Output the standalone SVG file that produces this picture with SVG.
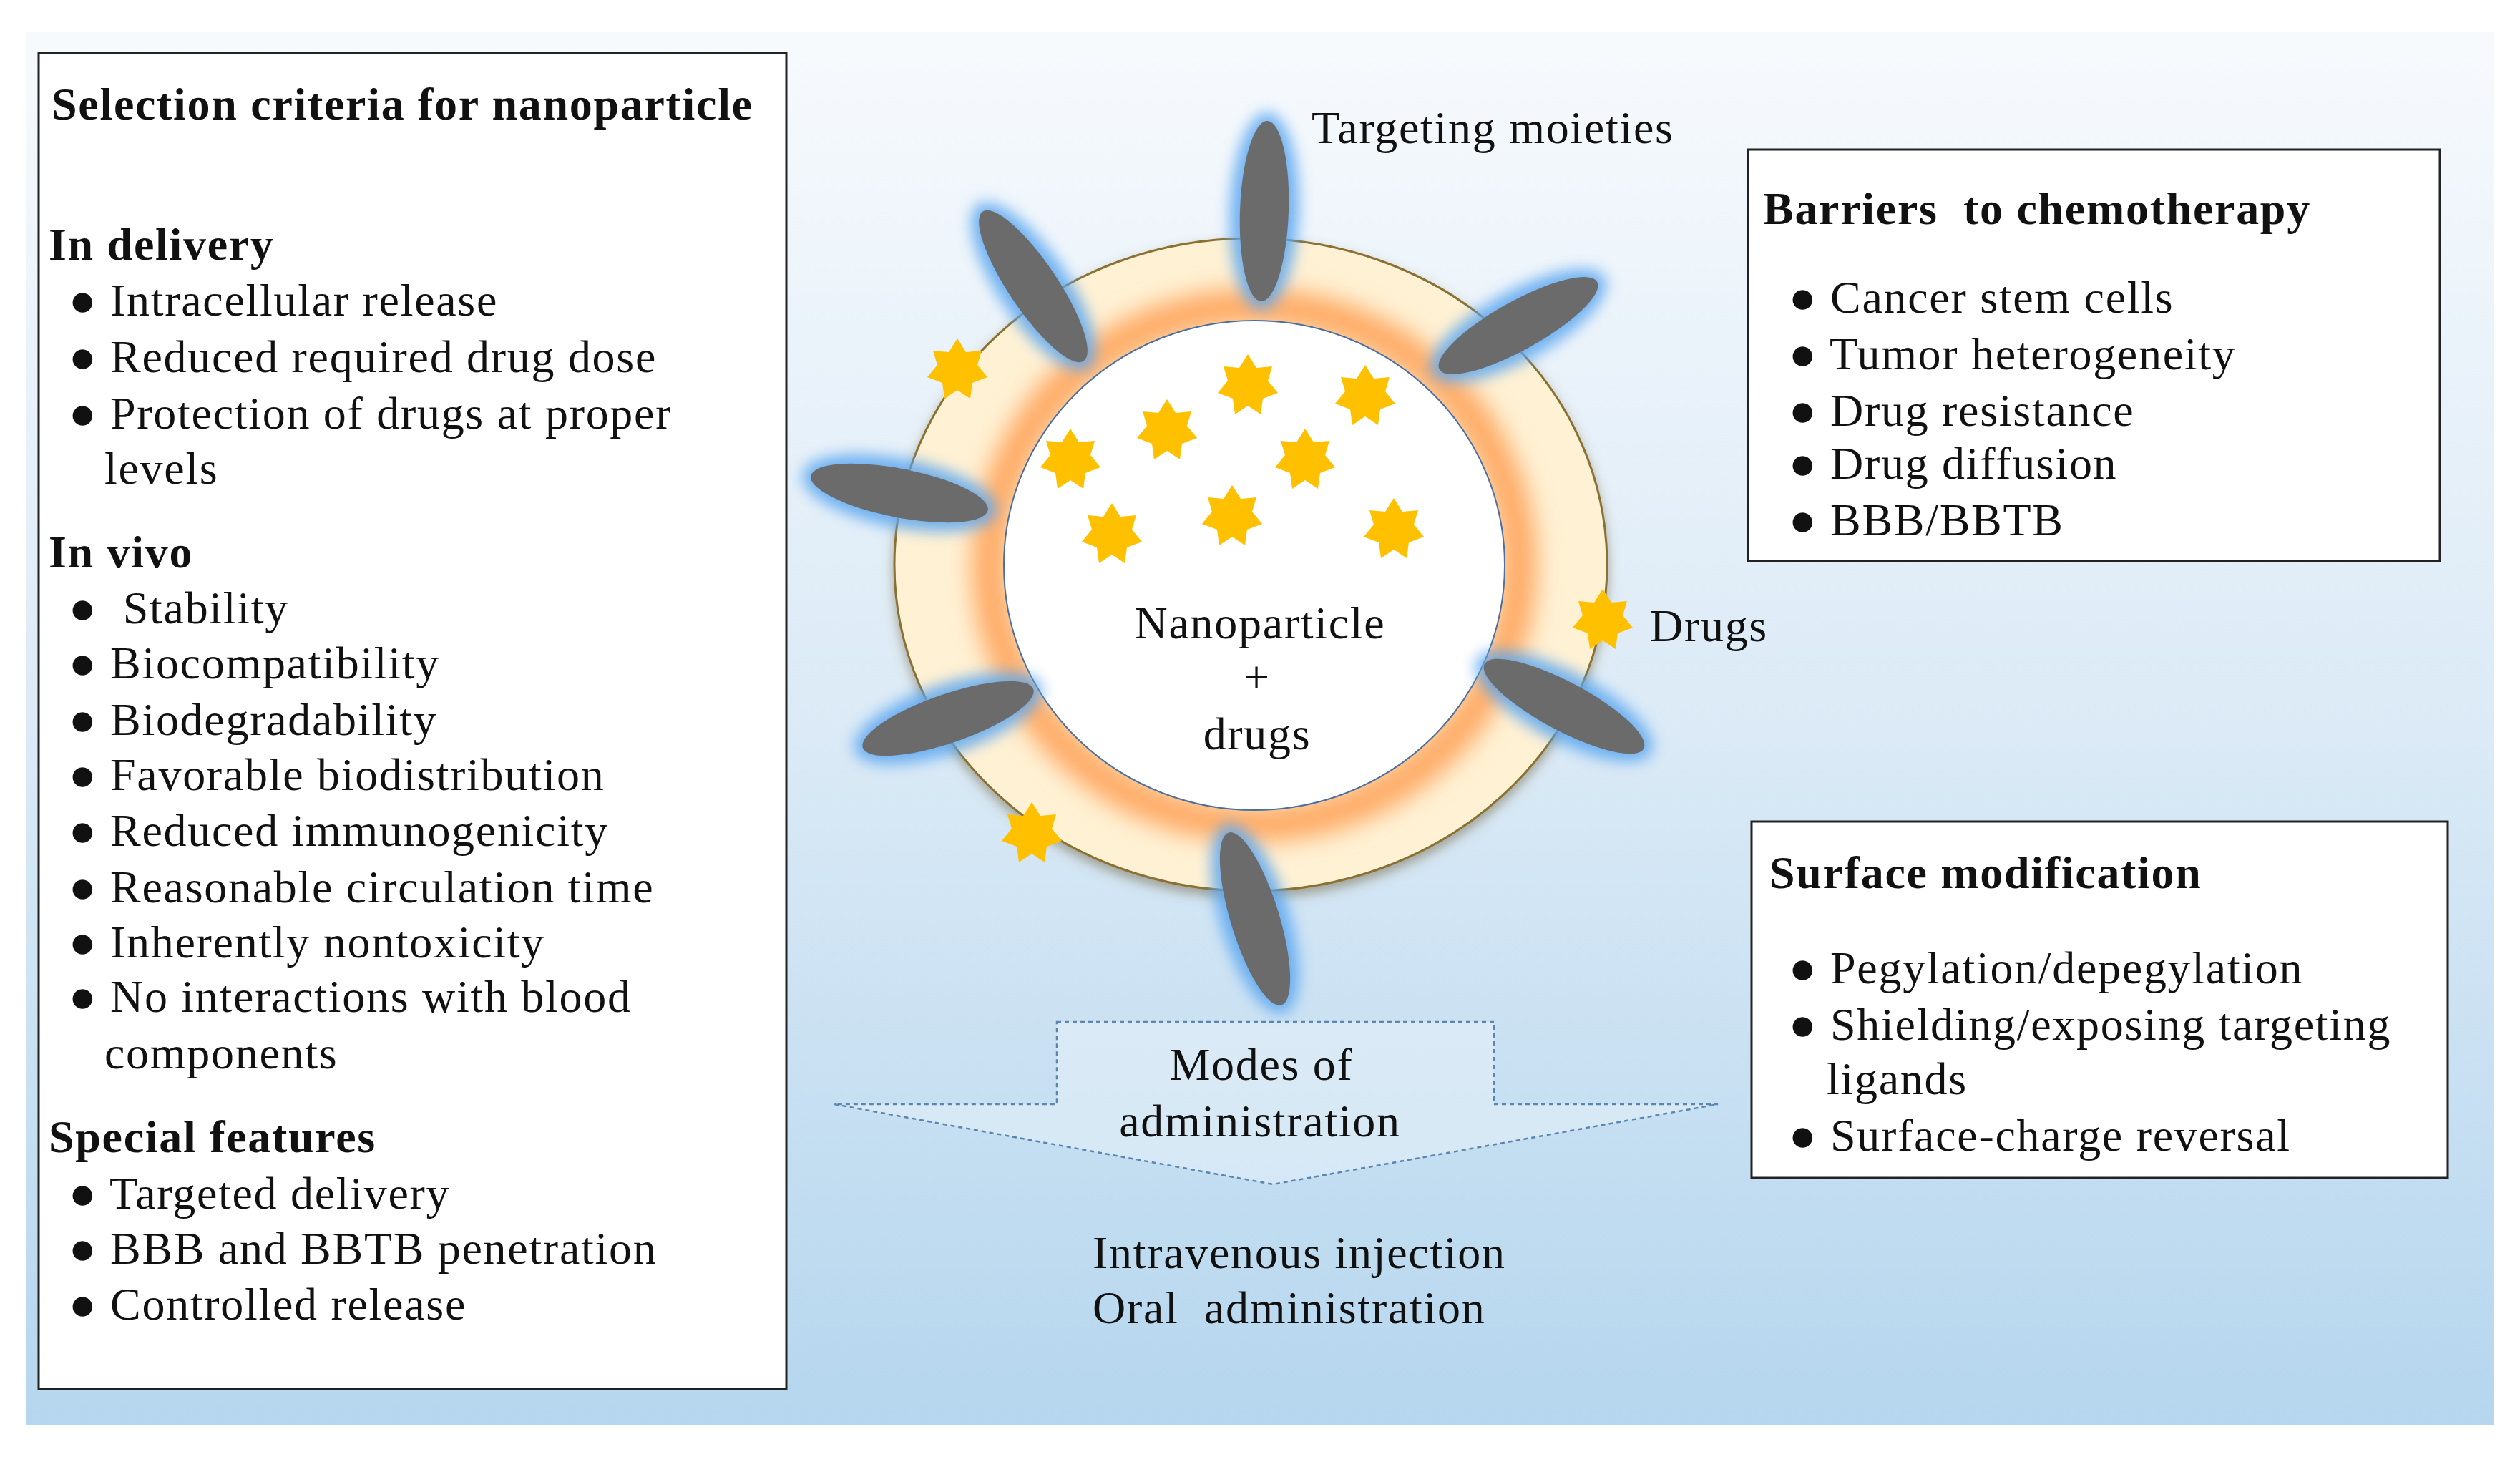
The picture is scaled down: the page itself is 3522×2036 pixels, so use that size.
<svg xmlns="http://www.w3.org/2000/svg" width="3522" height="2036" viewBox="0 0 3522 2036">
<defs>
<linearGradient id="bg" x1="0" y1="0" x2="0" y2="1">
<stop offset="0" stop-color="#f7fafd"/><stop offset="0.5" stop-color="#dbeaf6"/><stop offset="1" stop-color="#b5d6ee"/>
</linearGradient>
<filter id="blur" x="-50%" y="-50%" width="200%" height="200%"><feGaussianBlur stdDeviation="10"/></filter>
<filter id="blur2" x="-20%" y="-20%" width="140%" height="140%"><feGaussianBlur stdDeviation="16"/></filter>
<filter id="shadow" x="-20%" y="-20%" width="140%" height="140%"><feDropShadow dx="0" dy="8" stdDeviation="8" flood-color="#6a5a30" flood-opacity="0.5"/></filter>
<polygon id="star" points="0,-44 12,-25 34,-27 28,-7 42,10 21,18 18,40 0,28 -18,40 -21,18 -42,10 -28,-7 -34,-27 -12,-25" fill="#ffc000"/>
<g id="lig"><ellipse rx="138" ry="48" fill="#5aa6f0" opacity="0.85" filter="url(#blur)"/><ellipse rx="126" ry="34" fill="#6b6b6b"/></g>
</defs>
<style>
text{font-family:"Liberation Serif","DejaVu Serif",serif;font-size:64px;letter-spacing:1.7px;fill:#111;white-space:pre}
.b{font-weight:bold}
.box{fill:#fff;stroke:#222;stroke-width:3}
</style>
<rect x="36" y="45" width="3450" height="1946" fill="url(#bg)"/>

<g id="nanoparticle">
<ellipse cx="1748" cy="789" rx="498" ry="456" fill="#fff1d4" stroke="#8a7030" stroke-width="3" filter="url(#shadow)"/>
<ellipse cx="1753" cy="790" rx="370" ry="362" fill="none" stroke="#ffab66" stroke-width="50" filter="url(#blur2)"/>
<ellipse cx="1753" cy="790" rx="350" ry="342" fill="#fff" stroke="#4a6fa0" stroke-width="2"/>
<use href="#lig" transform="translate(1767,295) rotate(92)"/>
<use href="#lig" transform="translate(1444,400) rotate(56)"/>
<use href="#lig" transform="translate(2122,455) rotate(-29)"/>
<use href="#lig" transform="translate(1257,689) rotate(11)"/>
<use href="#lig" transform="translate(1325,1004) rotate(-19)"/>
<use href="#lig" transform="translate(2186,987) rotate(28)"/>
<use href="#lig" transform="translate(1754,1284) rotate(73)"/>
<use href="#star" x="1338" y="517"/><use href="#star" x="1496" y="643"/><use href="#star" x="1631" y="602"/>
<use href="#star" x="1744" y="539"/><use href="#star" x="1908" y="554"/><use href="#star" x="1824" y="643"/>
<use href="#star" x="1554" y="747"/><use href="#star" x="1722" y="722"/><use href="#star" x="1948" y="740"/>
<use href="#star" x="2240" y="867"/><use href="#star" x="1442" y="1165"/>
<text x="1761" y="892" text-anchor="middle">Nanoparticle</text>
<text x="1757" y="968" text-anchor="middle">+</text>
<text x="1757" y="1047" text-anchor="middle">drugs</text>
</g>
<g id="labels">
<text x="1833" y="200">Targeting moieties</text>
<text x="2306" y="896">Drugs</text>
</g>

<g id="selection">
<rect class="box" x="54" y="74" width="1045" height="1867"/>
<text class="b" x="72" y="167">Selection criteria for nanoparticle</text>
<text class="b" x="68" y="363">In delivery</text>
<text x="96" y="441">● Intracellular release</text>
<text x="96" y="520">● Reduced required drug dose</text>
<text x="96" y="599">● Protection of drugs at proper</text>
<text x="146" y="676">levels</text>
<text class="b" x="68" y="793">In vivo</text>
<text x="96" y="871">●  Stability</text>
<text x="96" y="948">● Biocompatibility</text>
<text x="96" y="1027">● Biodegradability</text>
<text x="96" y="1104">● Favorable biodistribution</text>
<text x="96" y="1182">● Reduced immunogenicity</text>
<text x="96" y="1261">● Reasonable circulation time</text>
<text x="96" y="1338">● Inherently nontoxicity</text>
<text x="96" y="1414">● No interactions with blood</text>
<text x="146" y="1493">components</text>
<text class="b" x="68" y="1610">Special features</text>
<text x="96" y="1689">● Targeted delivery</text>
<text x="96" y="1766">● BBB and BBTB penetration</text>
<text x="96" y="1844">● Controlled release</text>
</g>

<g id="barriers">
<rect class="box" x="2443" y="209" width="967" height="575"/>
<text class="b" x="2464" y="313">Barriers  to chemotherapy</text>
<text x="2500" y="437">● Cancer stem cells</text>
<text x="2500" y="516">● Tumor heterogeneity</text>
<text x="2500" y="595">● Drug resistance</text>
<text x="2500" y="669">● Drug diffusion</text>
<text x="2500" y="748">● BBB/BBTB</text>
</g>

<g id="surface">
<rect class="box" x="2448" y="1148" width="973" height="498"/>
<text class="b" x="2473" y="1241">Surface modification</text>
<text x="2500" y="1374">● Pegylation/depegylation</text>
<text x="2500" y="1453">● Shielding/exposing targeting</text>
<text x="2553" y="1529">ligands</text>
<text x="2500" y="1608">● Surface-charge reversal</text>
</g>

<g id="connectors">
<polygon points="1477,1428 2088,1428 2088,1543 2401,1543 1779,1655 1166,1543 1477,1543" fill="#eaf3fa" fill-opacity="0.5" stroke="#5a86b0" stroke-width="2.5" stroke-dasharray="6,5"/>
<text x="1763" y="1509" text-anchor="middle">Modes of</text>
<text x="1761" y="1588" text-anchor="middle">administration</text>
</g>
<g id="modes">
<text x="1527" y="1772">Intravenous injection</text>
<text x="1527" y="1849">Oral  administration</text>
</g>
</svg>
